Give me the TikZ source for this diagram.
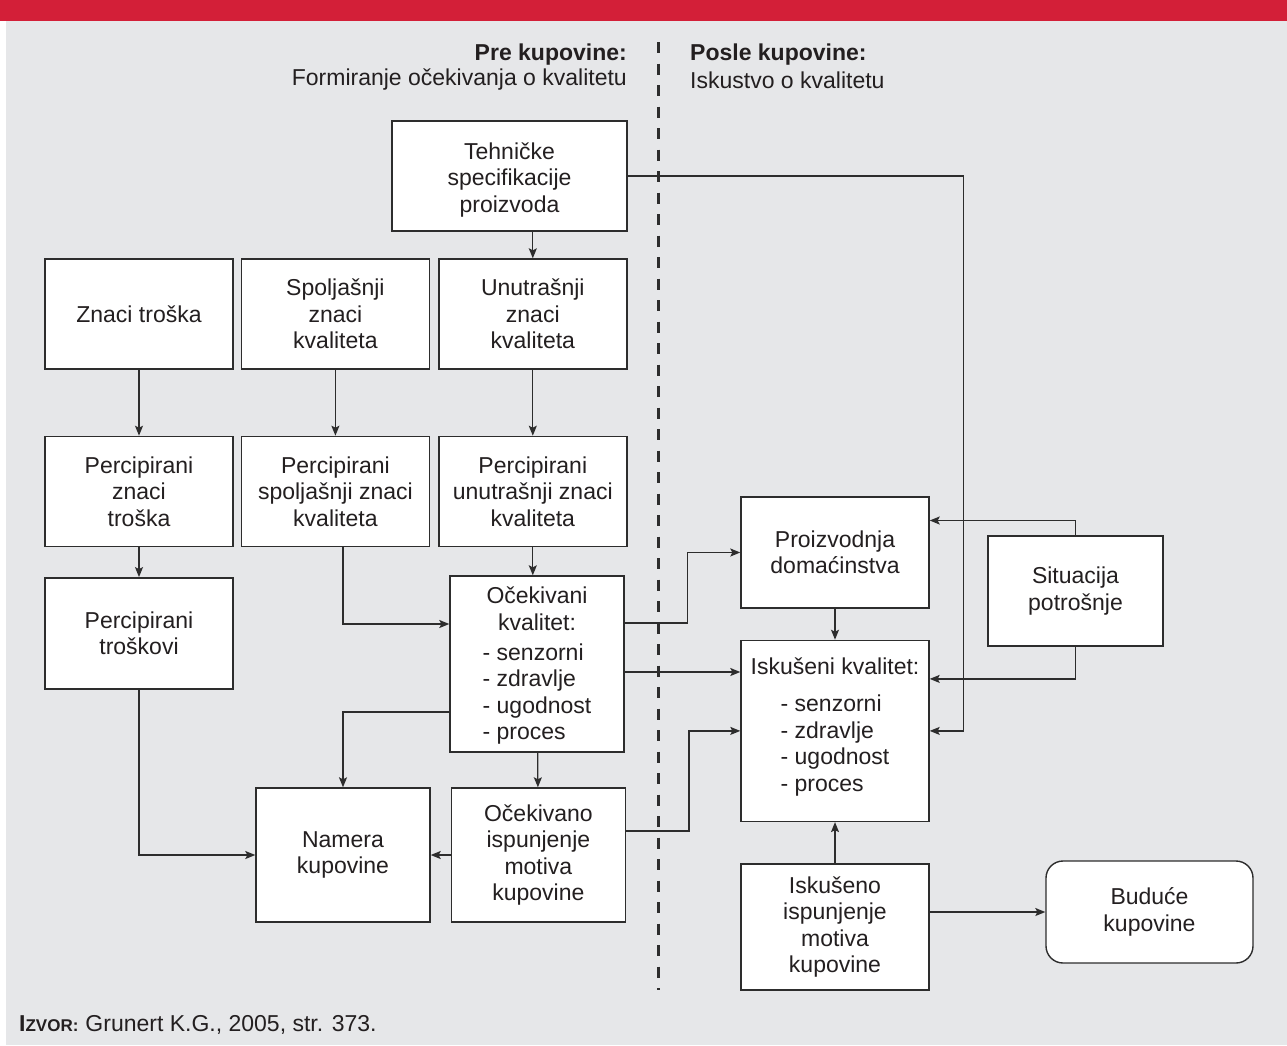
\documentclass[tikz,border=0pt]{standalone}
\usepackage{fontspec}
\setmainfont{Liberation Sans}
\usepackage{tikz}
\usetikzlibrary{arrows.meta,positioning}
\definecolor{topred}{RGB}{211,31,56}
\definecolor{panelgray}{RGB}{230,231,233}
\definecolor{linegray}{RGB}{45,45,45}
\definecolor{textgray}{RGB}{35,31,32}
\newcommand{\qfont}{\fontsize{23}{26.5}\selectfont}
\tikzstyle{qbox}=[rectangle,draw=linegray,fill=white,line width=1.4pt,inner sep=0pt,
                  minimum width=188pt,minimum height=110pt,align=center,text=textgray,font=\qfont]
\tikzstyle{head}=[inner sep=0pt,text=textgray,font=\qfont]
\tikzstyle{arrow}=[-{Stealth[length=10pt,width=8pt,inset=2pt]},line width=1.3pt,draw=linegray]

\begin{document}
\begin{tikzpicture}[x=1pt,y=-1pt,node distance=7pt and 7pt]
  \useasboundingbox (0,0) rectangle (1287,1045);
  \fill[white] (0,0) rectangle (1287,1045);
  \fill[panelgray] (6,0) rectangle (1287,1045);
  \fill[topred] (0,0) rectangle (1287,21);
  \draw[linegray,line width=3pt,dash pattern=on 11pt off 10.5pt] (658,42) -- (658,990);

  % headers
  \node[head,font=\qfont\bfseries,anchor=east] (prehd) at (627,55) {Pre kupovine:};
  \node[head,anchor=east] (presub) at (627,80) {Formiranje očekivanja o kvalitetu};
  \node[head,font=\qfont\bfseries,anchor=west] (posthd) at (690,55) {Posle kupovine:};
  \node[head,anchor=west] (postsub) at (690,80) {Iskustvo o kvalitetu};

  % before purchase
  \node[qbox,minimum width=235pt] (tech) at (509.5,176) {\rule{0pt}{24pt}Tehničke\\specifikacije\\proizvoda};
  \node[qbox] (znaci) at (139,314) {Znaci troška};
  \node[qbox,right=of znaci] (spolj) {Spoljašnji\\znaci\\kvaliteta};
  \node[qbox,right=8pt of spolj] (unutr) {Unutrašnji\\znaci\\kvaliteta};
  \node[qbox,below=66pt of znaci] (pzt) {Percipirani\\znaci\\troška};
  \node[qbox,right=of pzt] (psz) {Percipirani\\spoljašnji znaci\\kvaliteta};
  \node[qbox,right=8pt of psz] (puz) {Percipirani\\unutrašnji znaci\\kvaliteta};
  \node[qbox,below=30pt of pzt,minimum height=111pt] (ptr) {Percipirani\\troškovi};
  \node[qbox,minimum width=174pt,minimum height=176pt] (ok) at (537,664)
    {\rule{0pt}{23pt}Očekivani\\kvalitet:\\[3.5pt]\begin{tabular}[t]{@{}l@{}}- senzorni\\- zdravlje\\- ugodnost\\- proces\end{tabular}};
  \node[qbox,minimum width=174pt,minimum height=134pt] (nam) at (343,855) {Namera\\kupovine};
  \node[qbox,minimum width=174pt,minimum height=134pt,right=20pt of nam] (oi) {Očekivano\\ispunjenje\\motiva\\kupovine};

  % after purchase
  \node[qbox,minimum height=111pt] (proizv) at (835,552.5) {Proizvodnja\\domaćinstva};
  \node[qbox,minimum height=181pt,below=31pt of proizv] (isk)
    {Iskušeni kvalitet:\\[10.5pt]\begin{tabular}[t]{@{}l@{}}- senzorni\\- zdravlje\\- ugodnost\\- proces\rule[-13pt]{0pt}{0pt}\end{tabular}};
  \node[qbox,minimum height=126pt,below=41pt of isk] (iskisp) {Iskušeno\\ispunjenje\\motiva\\kupovine};
  \node[qbox,minimum width=175pt] (sit) at (1075.5,591) {Situacija\\potrošnje};
  \node[qbox,rounded corners=17pt,minimum width=207pt,minimum height=102pt] (bud) at (1149.5,912) {Buduće\\kupovine};

  \draw[arrow] (tech.south -| unutr.north) -- (unutr.north);
  \draw[arrow] (znaci) -- (pzt);
  \draw[arrow] (spolj) -- (psz);
  \draw[arrow] (unutr) -- (puz);
  \draw[arrow] (pzt) -- (ptr);
  \draw[arrow] (puz.south) -- (puz.south |- ok.north);
  \draw[arrow] (psz.south -| nam.north) |- ([yshift=40pt]ok.west);
  \draw[arrow] (ptr) |- (nam);
  \draw[arrow] ([yshift=-48pt]ok.west) -| (nam.north);
  \draw[arrow] (ok) -- (oi);
  \draw[arrow] (oi) -- (nam);
  \draw[arrow] ([yshift=41pt]ok.east) -- ++(63,0) |- (proizv.west);
  \draw[arrow] ([yshift=-8pt]ok.east) -- ([yshift=-8pt]ok.east -| isk.west);
  \draw[arrow] ([yshift=24pt]oi.east) -- ++(63,0) |- (isk.west);
  \draw[arrow] (tech.east) -- ++(336,0) |- (isk.east);
  \draw[arrow] (sit) |- ([yshift=32pt]proizv.east);
  \draw[arrow] (sit) |- ([yshift=52pt]isk.east);
  \draw[arrow] (proizv) -- (isk);
  \draw[arrow] (iskisp) -- (isk);
  \draw[arrow] (bud.west -| iskisp.east) -- (bud);

  % source
  \node[head,anchor=west] (izvor) at (19,1025)
    {{\bfseries I\fontsize{17}{20}\selectfont ZVOR:}\hspace{7pt}Grunert K.G., 2005, str. 373.};
\end{tikzpicture}
\end{document}
